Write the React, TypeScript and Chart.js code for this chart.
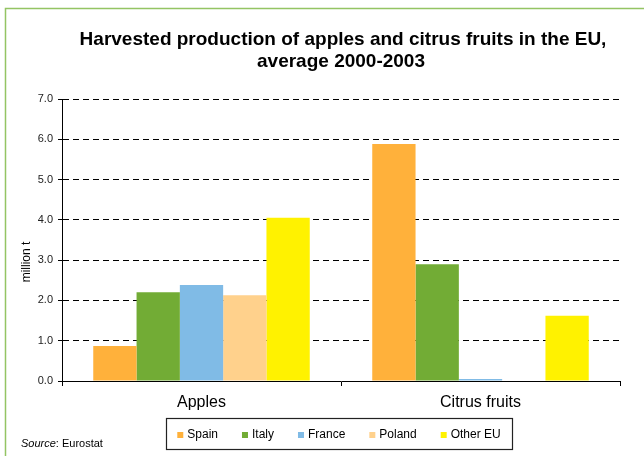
import React, { useEffect, useRef } from "react";
import { Chart, registerables } from "chart.js";

Chart.register(...registerables);

const categories = ["Apples", "Citrus fruits"];
const seriesNames = ["Spain", "Italy", "France", "Poland", "Other EU"];
const spain = [0.87, 5.88];
const italy = [2.2, 2.9];
const france = [2.38, 0.05];
const poland = [2.13, 0];
const otherEU = [4.05, 1.62];
const seriesColors = ["#FFB13B", "#72AC35", "#80BBE6", "#FFD18C", "#FFF200"];
const yTicks = [0, 1, 2, 3, 4, 5, 6, 7];

const FONT = '"Liberation Sans", Arial, sans-serif';

const decorPlugin = {
  id: "decor",
  afterDraw(chart: any) {
    const ctx = chart.ctx as CanvasRenderingContext2D;
    ctx.save();
    // frame
    ctx.strokeStyle = "#94C463";
    ctx.lineWidth = 1.5;
    ctx.strokeRect(5.5, 8.5, 800, 600);

    // title
    ctx.fillStyle = "#000";
    ctx.font = `bold 19px ${FONT}`;
    ctx.textAlign = "center";
    ctx.textBaseline = "alphabetic";
    ctx.fillText("Harvested production of apples and citrus fruits in the EU,", 343, 45);
    ctx.fillText("average 2000-2003", 341, 67);

    // y title
    ctx.save();
    ctx.translate(27, 262);
    ctx.rotate(-Math.PI / 2);
    ctx.font = `12px ${FONT}`;
    ctx.textAlign = "center";
    ctx.textBaseline = "middle";
    ctx.fillText("million t", 0, 0);
    ctx.restore();

    // source
    ctx.textAlign = "left";
    ctx.textBaseline = "alphabetic";
    ctx.font = `italic 11px ${FONT}`;
    ctx.fillText("Source", 21, 447);
    const sw = ctx.measureText("Source").width;
    ctx.font = `11px ${FONT}`;
    ctx.fillText(": Eurostat", 21 + sw, 447);

    // legend
    ctx.font = `12px ${FONT}`;
    const items = chart.data.datasets.map((d: any) => ({
      label: d.label,
      color: d.backgroundColor,
      w: ctx.measureText(d.label).width,
    }));
    const sq = 6;
    const gapT = 4;
    const gap = 24;
    const total =
      items.reduce((a: number, it: any) => a + sq + gapT + it.w, 0) + gap * (items.length - 1);
    const cx = 339;
    const boxL = 166;
    const boxR = 512;
    const boxT = 418;
    const boxB = 449;
    ctx.strokeStyle = "#222";
    ctx.lineWidth = 1.2;
    ctx.strokeRect(boxL + 0.5, boxT + 0.5, boxR - boxL, boxB - boxT);
    let x = cx - total / 2;
    const cy = 435;
    ctx.textBaseline = "middle";
    for (const it of items) {
      ctx.fillStyle = it.color;
      ctx.fillRect(x, cy - sq / 2, sq, sq);
      x += sq + gapT;
      ctx.fillStyle = "#000";
      ctx.fillText(it.label, x, cy);
      x += it.w + gap;
    }
    ctx.restore();
  },
};

export default function App() {
  const ref = useRef<HTMLCanvasElement | null>(null);
  useEffect(() => {
    if (!ref.current) return;
    const values = [spain, italy, france, poland, otherEU];
    const chart = new Chart(ref.current, {
      type: "bar",
      data: {
        labels: categories,
        datasets: seriesNames.map((name, i) => ({
          label: name,
          data: values[i],
          backgroundColor: seriesColors[i],
          borderWidth: 0,
          categoryPercentage: 0.776,
          barPercentage: 1,
        })),
      },
      options: {
        responsive: false,
        animation: false,
        layout: { padding: { left: 0, right: 24, top: 99, bottom: 0 } },
        plugins: {
          legend: { display: false },
          title: { display: false },
          tooltip: { enabled: false },
        },
        scales: {
          x: {
            grid: {
              display: true,
              drawOnChartArea: false,
              drawTicks: true,
              tickLength: 5,
              tickColor: "#000",
              offset: true,
            },
            border: { display: true, color: "#000", width: 1 },
            ticks: {
              font: { family: FONT, size: 16 },
              color: "#000",
              padding: 7,
            },
            afterFit: (s: any) => {
              s.height = 75;
            },
          },
          y: {
            min: 0,
            max: 7,
            afterBuildTicks: (s: any) => {
              s.ticks = yTicks.map((v) => ({ value: v }));
            },
            ticks: {
              font: { family: FONT, size: 11 },
              color: "#222",
              padding: 5,
              callback: (v: any) => Number(v).toFixed(1),
            },
            grid: {
              color: (c: any) => (c.tick && c.tick.value === 0 ? "rgba(0,0,0,0)" : "#000"),
              tickColor: "#000",
              tickLength: 4,
              tickBorderDash: [],
              lineWidth: 1,
            },
            border: { display: true, color: "#000", width: 1, dash: [6, 4] },
            afterFit: (s: any) => {
              s.width = 62;
            },
          },
        },
      },
      plugins: [decorPlugin],
    });
    return () => chart.destroy();
  }, []);
  return (
    <div style={{ position: "absolute", left: 0, top: 0, width: 644, height: 456, background: "#fff" }}>
      <canvas ref={ref} width={644} height={456} />
    </div>
  );
}
